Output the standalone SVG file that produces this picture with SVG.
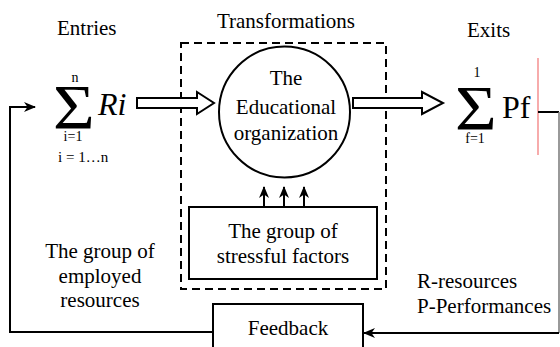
<svg xmlns="http://www.w3.org/2000/svg" width="560" height="347" viewBox="0 0 560 347">
  <style>
    .txt { font-family: 'Liberation Serif', 'Times New Roman', serif; font-size: 21px; fill: #000; }
    .mid { text-anchor: middle; }
    .sym { font-size: 64px; }
    .sub { font-size: 14px; }
    .big { font-size: 32px; }
    .line { fill: none; stroke: #000; stroke-width: 2; }
    .box { fill: #fff; stroke: #000; stroke-width: 2; }
    .hollow { fill: #fff; stroke: #000; stroke-width: 2; stroke-linejoin: miter; }
  </style>
  <defs>
    <marker id="head" markerUnits="userSpaceOnUse" markerWidth="12" markerHeight="10" viewBox="0 0 12 10" refX="11" refY="5" orient="auto">
      <path d="M0,0 L12,5 L0,10 L3.5,5 z" fill="#000"/>
    </marker>
  </defs>

  <rect width="560" height="347" fill="#fff"/>

  <!-- column headings -->
  <g id="headings">
    <text class="txt" x="57" y="35">Entries</text>
    <text class="txt mid" x="286" y="28">Transformations</text>
    <text class="txt" x="467" y="37">Exits</text>
  </g>

  <!-- transformation boundary -->
  <g id="transformations">
    <rect x="181" y="43" width="205" height="246" fill="none" stroke="#000" stroke-width="2" stroke-dasharray="8,5"/>
  </g>

  <!-- entries: sum of resources -->
  <g id="entries">
    <text class="txt sym" transform="translate(53,129) scale(1.12,1)">Σ</text>
    <text class="txt sub mid" x="75" y="82">n</text>
    <text class="txt sub mid" x="73" y="141">i=1</text>
    <text class="txt sub" x="58" y="162" style="font-size:15px">i = 1…n</text>
    <text class="txt big" x="98" y="115" font-style="italic">Ri</text>
  </g>

  <!-- exits: sum of performances -->
  <g id="exits">
    <text class="txt sym" transform="translate(455,130) scale(1.12,1)">Σ</text>
    <text class="txt sub mid" x="477" y="77">1</text>
    <text class="txt sub mid" x="475" y="143">f=1</text>
    <text class="txt big" x="502" y="118">Pf</text>
    <line x1="538" y1="58" x2="538" y2="155" stroke="#f27474" stroke-width="1.2"/>
  </g>

  <!-- central organisation -->
  <g id="organization">
    <circle class="box" cx="284.5" cy="112" r="65.5"/>
    <text class="txt mid" x="286" y="85">The</text>
    <text class="txt mid" x="286" y="114">Educational</text>
    <text class="txt mid" x="286" y="140">organization</text>
  </g>

  <!-- stressful factors -->
  <g id="stressors">
    <rect class="box" x="189" y="207" width="188" height="72"/>
    <text class="txt mid" x="283" y="238">The group of</text>
    <text class="txt mid" x="283" y="263">stressful factors</text>
  </g>

  <!-- feedback -->
  <g id="feedback">
    <rect class="box" x="213" y="304" width="150" height="60"/>
    <text class="txt mid" x="288" y="335">Feedback</text>
  </g>

  <!-- side notes -->
  <g id="notes">
    <text class="txt mid" x="100" y="258">The group of</text>
    <text class="txt mid" x="100" y="283">employed</text>
    <text class="txt mid" x="100" y="307">resources</text>
    <text class="txt" x="417" y="288">R-resources</text>
    <text class="txt" x="417" y="313">P-Performances</text>
  </g>

  <!-- connectors -->
  <g id="connectors">
    <polygon class="hollow" points="137,98 197,98 197,92 214,103 197,114 197,108 137,108"/>
    <polygon class="hollow" points="353,98 422,98 422,92 443,103 422,114 422,108 353,108"/>
    <line class="line" x1="264" y1="207" x2="264" y2="187" marker-end="url(#head)"/>
    <line class="line" x1="284" y1="207" x2="284" y2="187" marker-end="url(#head)"/>
    <line class="line" x1="304" y1="207" x2="304" y2="187" marker-end="url(#head)"/>
    <line x1="538" y1="112" x2="559" y2="112" stroke="#000" stroke-width="2"/>
    <line x1="559" y1="112" x2="559" y2="333" stroke="#777" stroke-width="1.5"/>
    <line class="line" x1="559" y1="333" x2="364" y2="333" marker-end="url(#head)"/>
    <polyline class="line" points="213,332 10,332 10,107 35,107" marker-end="url(#head)"/>
  </g>
</svg>
